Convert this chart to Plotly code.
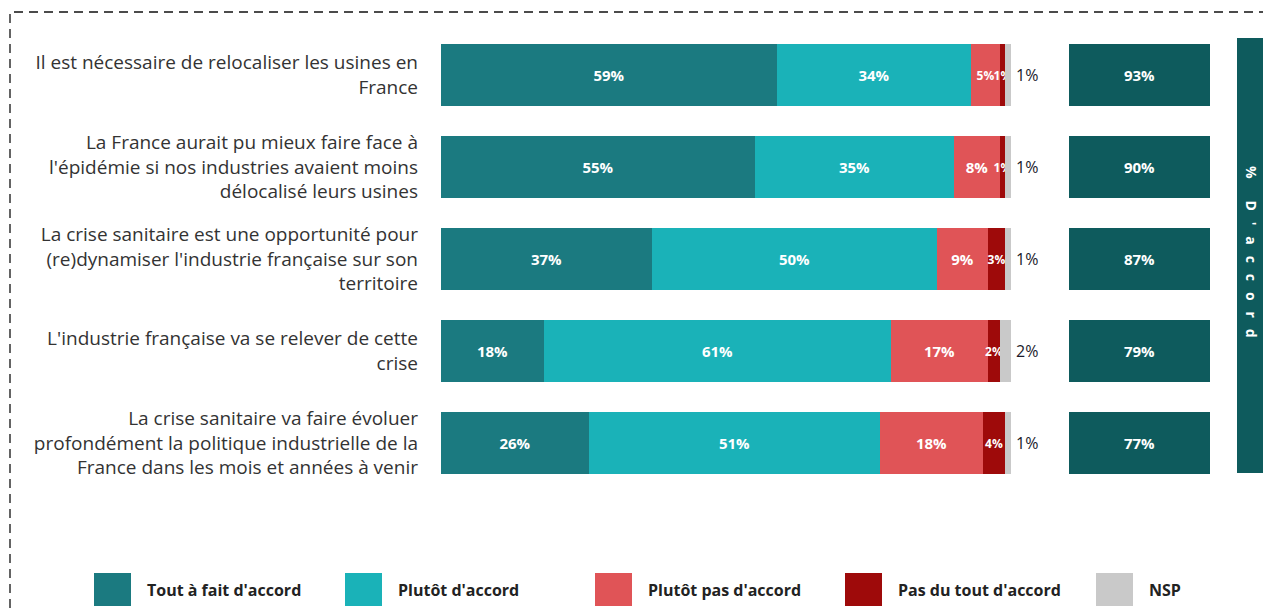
import plotly.graph_objects as go

categories = [
    "Il est nécessaire de relocaliser les usines en<br>France",
    "La France aurait pu mieux faire face à<br>l'épidémie si nos industries avaient moins<br>délocalisé leurs usines",
    "La crise sanitaire est une opportunité pour<br>(re)dynamiser l'industrie française sur son<br>territoire",
    "L'industrie française va se relever de cette<br>crise",
    "La crise sanitaire va faire évoluer<br>profondément la politique industrielle de la<br>France dans les mois et années à venir",
]
series_names = ["Tout à fait d'accord", "Plutôt d'accord", "Plutôt pas d'accord",
                "Pas du tout d'accord", "NSP"]
tout_a_fait = [59, 55, 37, 18, 26]
plutot = [34, 35, 50, 61, 51]
plutot_pas = [5, 8, 9, 17, 18]
pas_du_tout = [1, 1, 3, 2, 4]
nsp = [1, 1, 1, 2, 1]
total_accord = [93, 90, 87, 79, 77]

colors = ["#1B7A80", "#1AB2B8", "#E05457", "#9E0A0A", "#C9C9C9"]
series = [tout_a_fait, plutot, plutot_pas, pas_du_tout, nsp]

W, H = 1263, 610
def px(x): return x / W
def py(y): return 1 - y / H

fig = go.Figure()
BW = 0.68
for i, (name, vals, col) in enumerate(zip(series_names, series, colors)):
    show_text = i < 4
    # narrow segments get a slightly smaller label so neighbours do not collide
    sizes = [15 if v >= 8 else 12 for v in vals]
    fig.add_trace(go.Bar(
        y=categories, x=vals, name=name, orientation="h",
        marker=dict(color=col, line=dict(width=0)),
        width=BW,
        text=[f"<b>{v}%</b>" for v in vals] if show_text else None,
        textposition="inside" if show_text else "none",
        insidetextanchor="middle", textangle=0, constraintext="none",
        textfont=dict(family="Open Sans", size=sizes, color="white"),
        showlegend=False, hoverinfo="x+name",
    ))

# Totals "% d'accord"
fig.add_trace(go.Bar(
    y=categories, x=[1] * len(total_accord), orientation="h",
    xaxis="x2", width=BW,
    marker=dict(color="#0E5B5D", line=dict(width=0)),
    text=[f"<b>{v}%</b>" for v in total_accord], textposition="inside",
    insidetextanchor="middle", textangle=0,
    textfont=dict(family="Open Sans", size=15, color="white"),
    showlegend=False, hoverinfo="text",
))

shapes = []
annotations = []

# NSP values written just outside the bar end
ends = [a + b + c + d + e for a, b, c, d, e in zip(*series)]
for cat, end, v in zip(categories, ends, nsp):
    annotations.append(dict(xref="x", yref="y", x=end, y=cat, xanchor="left",
                            xshift=3, showarrow=False, text=f"{v}%",
                            font=dict(family="Open Sans", size=16, color="#1a1a2a")))

# dashed frame
shapes.append(dict(type="rect", xref="paper", yref="paper",
                   x0=px(10), x1=px(1300), y0=py(700), y1=py(12),
                   line=dict(color="#111", width=1.3, dash="9px,6px"),
                   fillcolor="rgba(0,0,0,0)"))
# side band
shapes.append(dict(type="rect", xref="paper", yref="paper",
                   x0=px(1237), x1=1.0, y0=py(473), y1=py(38),
                   line=dict(width=0), fillcolor="#0E5B5D"))
sp = "\u00a0\u00a0\u00a0"
band_text = "%" + sp * 2 + sp.join("D'accord")
annotations.append(dict(xref="paper", yref="paper", x=px(1251), y=py(252),
                        xanchor="center", yanchor="middle",
                        text=f"<b>{band_text}</b>", showarrow=False,
                        textangle=90, font=dict(family="Open Sans", size=14, color="white")))

# legend
legend_x = [94, 345, 595, 845, 1096]
for name, col, lx in zip(series_names, colors, legend_x):
    shapes.append(dict(type="rect", xref="paper", yref="paper",
                       x0=px(lx), x1=px(lx + 37), y0=py(606), y1=py(573),
                       line=dict(width=0), fillcolor=col))
    annotations.append(dict(xref="paper", yref="paper", x=px(lx + 51), y=py(590),
                            xanchor="left", yanchor="middle", showarrow=False,
                            text=f"<b>{name}</b>",
                            font=dict(family="Open Sans", size=16, color="#222")))

fig.update_layout(
    width=W, height=H, barmode="stack", bargap=0,
    margin=dict(l=0, r=0, t=0, b=0),
    paper_bgcolor="white", plot_bgcolor="white",
    xaxis=dict(domain=[px(441), px(1011)], range=[0, 100], visible=False, fixedrange=True),
    xaxis2=dict(domain=[px(1069), px(1210)], range=[0, 1], visible=False,
                anchor="y", fixedrange=True),
    yaxis=dict(domain=[py(489), py(29)], autorange="reversed",
               showgrid=False, zeroline=False, showline=False, ticks="",
               ticklabelstandoff=22,
               tickfont=dict(family="Open Sans", size=19, color="#333")),
    shapes=shapes, annotations=annotations,
    font=dict(family="Open Sans"),
)

fig.write_html("out.html", config={"displayModeBar": False},
               post_script="document.body.style.margin='0';document.body.style.overflow='hidden';")
